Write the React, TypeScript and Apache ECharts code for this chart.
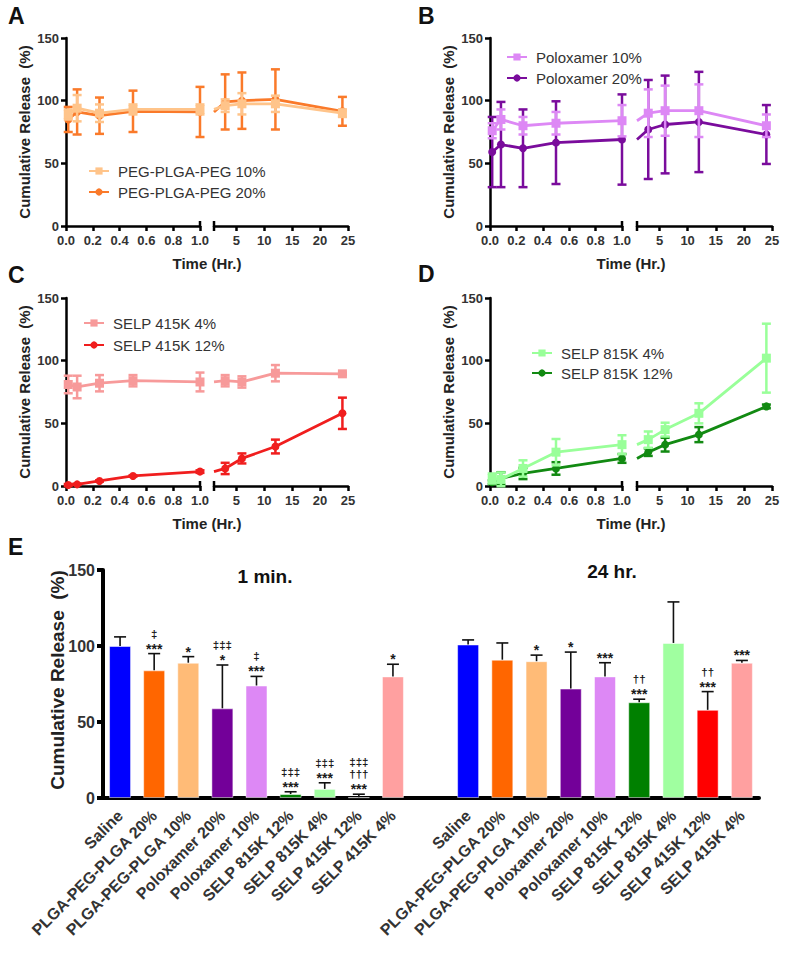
import React, { useEffect, useRef } from "react";
import * as echarts from "echarts";

// ---------------- DATA ----------------
const TIMES = [0.0167, 0.083, 0.25, 0.5, 1, 3, 6, 12, 24];
const LEFT_TICKS = [0, 0.2, 0.4, 0.6, 0.8, 1.0];
const RIGHT_TICKS = [5, 10, 15, 20, 25];

const PEG10_MEAN = [89, 94, 90, 93, 93, 96, 97.5, 97.5, 90];
const PEG10_SD = [4, 10.5, 7, 4, 4, 5, 8.5, 6.5, 3];
const PEG20_MEAN = [85, 91, 88, 91.5, 91, 99, 100, 101, 91.5];
const PEG20_SD = [10, 18, 14.5, 16.5, 20, 22, 22.5, 24, 11.5];

const POL10_MEAN = [76, 85, 80, 82, 84, 90, 92, 92, 80];
const POL10_SD = [6, 8, 7, 9, 12.5, 19, 20, 21, 9];
const POL20_MEAN = [59, 65, 62, 66.5, 69, 77, 81, 83, 73];
const POL20_SD = [28, 34, 31, 33, 36, 39.5, 39, 40, 23.5];

const S415_4_MEAN = [81, 79, 82, 84, 83, 84, 83, 90, 89.5];
const S415_4_SD = [7, 9, 6.5, 4.5, 7.5, 4.5, 4.5, 6.5, 1];
const S415_12_MEAN = [0.8, 1.3, 4, 8, 11.5, 14, 22, 31.5, 58];
const S415_12_SD = [0.8, 0.5, 0.5, 0.5, 1, 4.5, 4, 5.5, 12.5];

const S815_4_MEAN = [6, 5.3, 14, 27, 33, 37, 45, 58, 102];
const S815_4_SD = [4, 5.5, 6.5, 10.5, 7.5, 6.5, 5.5, 8, 27.5];
const S815_12_MEAN = [3, 6, 10, 14, 22, 27, 33, 41, 63.5];
const S815_12_SD = [1.5, 5, 4.5, 5, 3.5, 3, 5.5, 6, 1.5];

const BAR_CATS = [
  "Saline",
  "PLGA-PEG-PLGA 20%",
  "PLGA-PEG-PLGA 10%",
  "Poloxamer 20%",
  "Poloxamer 10%",
  "SELP 815K 12%",
  "SELP 815K 4%",
  "SELP 415K 12%",
  "SELP 415K 4%",
];
const MIN1_MEAN = [100, 84, 89, 59, 74, 2.6, 6, 0.5, 80];
const MIN1_SD = [6, 11, 4, 28.5, 6, 1.5, 4, 2, 8];
const HR24_MEAN = [101, 91, 90, 72, 80, 63, 102, 58, 89];
const HR24_SD = [3, 11, 4, 24, 9, 2, 27, 12, 1.5];
// significance marks, listed bottom to top
const MIN1_SIG = [[], ["***", "‡"], ["*"], ["*", "‡‡‡"], ["***", "‡"], ["***", "‡‡‡"], ["***", "‡‡‡"], ["***", "†††", "‡‡‡"], ["*"]];
const HR24_SIG = [[], [], ["*"], ["*"], ["***"], ["***", "††"], [], ["***", "††"], ["***"]];
const Y_TITLE = "Cumulative Release  (%)";

// ---------------- STYLE / LAYOUT ----------------
const FONT = "'Liberation Sans', Arial, Helvetica, sans-serif";
const BAR_COLORS = ["#0000FF", "#FF6600", "#FFBB77", "#730099", "#DD88F5", "#008000", "#A0FFA0", "#FF0000", "#FFA0A0"];

const PANELS = [
  {
    letter: "A", letterX: 8, letterY: 16, lLeft: 66, lWidth: 134, rLeft: 214, rWidth: 134, top: 38, height: 188,
    titleX: 24, legendLeft: 83, legendTop: 158, legendGap: 5,
    series: [
      { name: "PEG-PLGA-PEG 10%", mean: PEG10_MEAN, sd: PEG10_SD, color: "#FFC48A", symbol: "rect" },
      { name: "PEG-PLGA-PEG 20%", mean: PEG20_MEAN, sd: PEG20_SD, color: "#FA7A2A", symbol: "circle" },
    ],
  },
  {
    letter: "B", letterX: 418, letterY: 16, lLeft: 490, lWidth: 132, rLeft: 637, rWidth: 135, top: 38, height: 188,
    titleX: 448, legendLeft: 501, legendTop: 44, legendGap: 5,
    series: [
      { name: "Poloxamer 10%", mean: POL10_MEAN, sd: POL10_SD, color: "#DD88F5", symbol: "rect" },
      { name: "Poloxamer 20%", mean: POL20_MEAN, sd: POL20_SD, color: "#7A0C9C", symbol: "circle" },
    ],
  },
  {
    letter: "C", letterX: 8, letterY: 275, lLeft: 66, lWidth: 134, rLeft: 214, rWidth: 134, top: 298, height: 188,
    titleX: 24, legendLeft: 78, legendTop: 310, legendGap: 6,
    series: [
      { name: "SELP 415K 4%", mean: S415_4_MEAN, sd: S415_4_SD, color: "#F79A9A", symbol: "rect" },
      { name: "SELP 415K 12%", mean: S415_12_MEAN, sd: S415_12_SD, color: "#F01E1E", symbol: "circle" },
    ],
  },
  {
    letter: "D", letterX: 418, letterY: 274, lLeft: 490, lWidth: 132, rLeft: 637, rWidth: 135, top: 298, height: 188,
    titleX: 448, legendLeft: 526, legendTop: 340, legendGap: 4,
    series: [
      { name: "SELP 815K 4%", mean: S815_4_MEAN, sd: S815_4_SD, color: "#99FF99", symbol: "rect" },
      { name: "SELP 815K 12%", mean: S815_12_MEAN, sd: S815_12_SD, color: "#128A12", symbol: "circle" },
    ],
  },
];

const BAR_LAYOUT = { top: 570, height: 228, g1Left: 103, g1Width: 307, g2Left: 451, g2Width: 308 };

function buildOption() {
  const grid: any[] = [];
  const xAxis: any[] = [];
  const yAxis: any[] = [];
  const series: any[] = [];
  const legend: any[] = [];
  const graphic: any[] = [];

  const axisLineStyle = { color: "#000", width: 2.5 };
  const tickLabel = { color: "#333", fontSize: 13, fontWeight: "bold", fontFamily: FONT };

  PANELS.forEach((p, pi) => {
    const gl = pi * 2;
    const gr = pi * 2 + 1;
    grid.push({ left: p.lLeft, top: p.top, width: p.lWidth, height: p.height, containLabel: false });
    grid.push({ left: p.rLeft, top: p.top, width: p.rWidth, height: p.height, containLabel: false });
    xAxis.push({
      type: "value", gridIndex: gl, min: 0, max: 1, interval: 0.2,
      axisLine: { lineStyle: axisLineStyle, onZero: false },
      axisTick: { length: 5, lineStyle: axisLineStyle },
      axisLabel: { ...tickLabel, margin: 8, formatter: (v: number) => v.toFixed(1), customValues: LEFT_TICKS },
      splitLine: { show: false },
    });
    xAxis.push({
      type: "value", gridIndex: gr, min: 1, max: 25,
      axisLine: { lineStyle: axisLineStyle, onZero: false },
      axisTick: { length: 5, lineStyle: axisLineStyle, customValues: RIGHT_TICKS },
      axisLabel: { ...tickLabel, margin: 8, customValues: RIGHT_TICKS, showMinLabel: true },
      splitLine: { show: false },
    });
    yAxis.push({
      type: "value", gridIndex: gl, min: 0, max: 150, interval: 50,
      axisLine: { show: true, lineStyle: axisLineStyle },
      axisTick: { show: true, length: 5, lineStyle: axisLineStyle },
      axisLabel: { ...tickLabel, margin: 7 },
      splitLine: { show: false },
    });
    yAxis.push({ type: "value", gridIndex: gr, min: 0, max: 150, interval: 50, show: false, splitLine: { show: false } });

    // draw dark first, light on top
    const ordered = [p.series[1], p.series[0]];
    ordered.forEach((s, k) => {
      const z = 3 + k;
      const leftPts = TIMES.map((t, i) => [t, s.mean[i], s.sd[i]]).filter((d) => d[0] <= 1);
      const rightPts = TIMES.map((t, i) => [t, s.mean[i], s.sd[i]]).filter((d) => d[0] >= 1);
      const lineCommon = {
        type: "line", name: s.name, symbol: s.symbol, symbolSize: s.symbol === "rect" ? 9 : 8,
        lineStyle: { color: s.color, width: 2.8 }, itemStyle: { color: s.color },
        z, silent: true,
      };
      series.push({ ...lineCommon, xAxisIndex: gl, yAxisIndex: gl, data: leftPts.map((d) => [d[0], d[1]]) });
      series.push({
        ...lineCommon, xAxisIndex: gr, yAxisIndex: gr,
        data: rightPts.map((d, j) => (j === 0 ? { value: [d[0], d[1]], symbol: "none" } : [d[0], d[1]])),
      });
      const errRender = (params: any, api: any) => {
        const x = api.value(0), m = api.value(1), sd = api.value(2);
        const t = api.coord([x, m + sd]);
        const b = api.coord([x, m - sd]);
        const hw = 4.5;
        const st = { stroke: s.color, lineWidth: 2.5 };
        return {
          type: "group",
          children: [
            { type: "line", shape: { x1: t[0], y1: t[1], x2: b[0], y2: b[1] }, style: st },
            { type: "line", shape: { x1: t[0] - hw, y1: t[1], x2: t[0] + hw, y2: t[1] }, style: st },
            { type: "line", shape: { x1: b[0] - hw, y1: b[1], x2: b[0] + hw, y2: b[1] }, style: st },
          ],
        };
      };
      series.push({ type: "custom", xAxisIndex: gl, yAxisIndex: gl, data: leftPts, renderItem: errRender, z, silent: true, clip: false });
      series.push({ type: "custom", xAxisIndex: gr, yAxisIndex: gr, data: rightPts.slice(1), renderItem: errRender, z, silent: true, clip: false });
    });

    legend.push({
      orient: "vertical", left: p.legendLeft, top: p.legendTop, itemGap: p.legendGap,
      itemWidth: 20, itemHeight: 9, selectedMode: false,
      data: p.series.map((s) => s.name),
      textStyle: { fontSize: 15, color: "#333", fontFamily: FONT, lineHeight: 16, padding: [0, 0, 0, 4] },
    });

    const y0 = p.top + p.height;
    // axis break marks
    graphic.push({ type: "line", shape: { x1: p.lLeft + p.lWidth, y1: y0 - 5, x2: p.lLeft + p.lWidth, y2: y0 }, style: { stroke: "#000", lineWidth: 2.5 } });
    graphic.push({ type: "line", shape: { x1: p.rLeft, y1: y0 - 5, x2: p.rLeft, y2: y0 + 5 }, style: { stroke: "#000", lineWidth: 2.5 } });
    // letter
    graphic.push({ type: "text", x: p.letterX, y: p.letterY, style: { text: p.letter, font: `bold 23px ${FONT}`, fill: "#111", verticalAlign: "middle" } });
    // y title
    graphic.push({
      type: "text", x: p.titleX, y: p.top + p.height / 2, rotation: Math.PI / 2,
      style: { text: Y_TITLE, font: `bold 15px ${FONT}`, fill: "#222", align: "center", verticalAlign: "middle" },
    });
    // x title
    graphic.push({
      type: "text", x: (p.lLeft + p.rLeft + p.rWidth) / 2, y: y0 + 37,
      style: { text: "Time (Hr.)", font: `bold 15px ${FONT}`, fill: "#222", align: "center", verticalAlign: "middle" },
    });
  });

  // ---------------- Panel E ----------------
  const B = BAR_LAYOUT;
  const g1 = grid.length;
  const g2 = g1 + 1;
  grid.push({ left: B.g1Left, top: B.top, width: B.g1Width, height: B.height });
  grid.push({ left: B.g2Left, top: B.top, width: B.g2Width, height: B.height });
  const thick = { color: "#000", width: 4 };
  [g1, g2].forEach((g) => {
    xAxis.push({
      type: "category", gridIndex: g, data: BAR_CATS,
      axisLine: { lineStyle: thick },
      axisTick: { alignWithLabel: true, length: 7, lineStyle: thick },
      axisLabel: { rotate: 45, interval: 0, margin: 15, color: "#333", fontSize: 16, fontWeight: "bold", fontFamily: FONT },
    });
  });
  yAxis.push({
    type: "value", gridIndex: g1, min: 0, max: 150, interval: 50,
    axisLine: { show: true, lineStyle: thick },
    axisTick: { show: true, length: 6, lineStyle: thick },
    axisLabel: { color: "#333", fontSize: 16, fontWeight: "bold", fontFamily: FONT, margin: 8 },
    splitLine: { show: false },
  });
  yAxis.push({ type: "value", gridIndex: g2, min: 0, max: 150, interval: 50, show: false, splitLine: { show: false } });

  const groups = [
    { g: g1, mean: MIN1_MEAN, sd: MIN1_SD, sig: MIN1_SIG },
    { g: g2, mean: HR24_MEAN, sd: HR24_SD, sig: HR24_SIG },
  ];
  groups.forEach((G) => {
    series.push({
      type: "bar", xAxisIndex: G.g, yAxisIndex: G.g, barWidth: 22, silent: true,
      data: G.mean.map((v, i) => ({ value: v, itemStyle: { color: BAR_COLORS[i], borderColor: "rgba(255,255,255,0.5)", borderWidth: 1 } })),
      z: 2,
    });
    series.push({
      type: "custom", xAxisIndex: G.g, yAxisIndex: G.g, silent: true, clip: false, z: 5,
      data: G.mean.map((m, i) => [i, m, G.sd[i]]),
      renderItem: (params: any, api: any) => {
        const i = api.value(0), m = api.value(1), sd = api.value(2);
        const base = api.coord([i, m]);
        const top = api.coord([i, m + sd]);
        const st = { stroke: "#111", lineWidth: 1.6 };
        const children: any[] = [
          { type: "line", shape: { x1: base[0], y1: base[1], x2: top[0], y2: top[1] }, style: st },
          { type: "line", shape: { x1: top[0] - 6, y1: top[1], x2: top[0] + 6, y2: top[1] }, style: st },
        ];
        const marks = G.sig[params.dataIndex] || [];
        marks.forEach((txt: string, k: number) => {
          const isStar = txt.indexOf("*") >= 0;
          const y = isStar ? top[1] - 5 - 12 * k : top[1] - 8 - 12 * k;
          children.push({
            type: "text", x: top[0], y,
            style: {
              text: txt, fontFamily: FONT, fontWeight: "bold", fontSize: isStar ? 14 : 11.5, lineHeight: isStar ? 11 : 11.5,
              fill: "#1a1a1a", align: "center", verticalAlign: "middle",
            },
          });
        });
        return { type: "group", children };
      },
    });
  });

  // continue axis line across the gap
  graphic.push({ type: "rect", shape: { x: B.g1Left + B.g1Width - 1, y: B.top + B.height - 2, width: B.g2Left - B.g1Left - B.g1Width + 2, height: 4 }, style: { fill: "#000" } });
  graphic.push({ type: "text", x: 8, y: 547, style: { text: "E", font: `bold 23px ${FONT}`, fill: "#111", verticalAlign: "middle" } });
  graphic.push({
    type: "text", x: 57, y: 680, rotation: Math.PI / 2,
    style: { text: Y_TITLE, font: `bold 19px ${FONT}`, fill: "#222", align: "center", verticalAlign: "middle" },
  });
  graphic.push({ type: "text", x: 265, y: 576, style: { text: "1 min.", font: `bold 19px ${FONT}`, fill: "#111", align: "center", verticalAlign: "middle" } });
  graphic.push({ type: "text", x: 612, y: 571, style: { text: "24 hr.", font: `bold 19px ${FONT}`, fill: "#111", align: "center", verticalAlign: "middle" } });

  return {
    animation: false,
    backgroundColor: "#fff",
    textStyle: { fontFamily: FONT },
    grid, xAxis, yAxis, series, legend, graphic,
  };
}

export default function App() {
  const ref = useRef<HTMLDivElement>(null);
  useEffect(() => {
    if (!ref.current) return;
    const chart = echarts.init(ref.current, undefined, { renderer: "svg" });
    chart.setOption(buildOption() as any);
    return () => chart.dispose();
  }, []);
  return <div ref={ref} style={{ position: "absolute", left: 0, top: 0, width: 786, height: 960 }} />;
}
